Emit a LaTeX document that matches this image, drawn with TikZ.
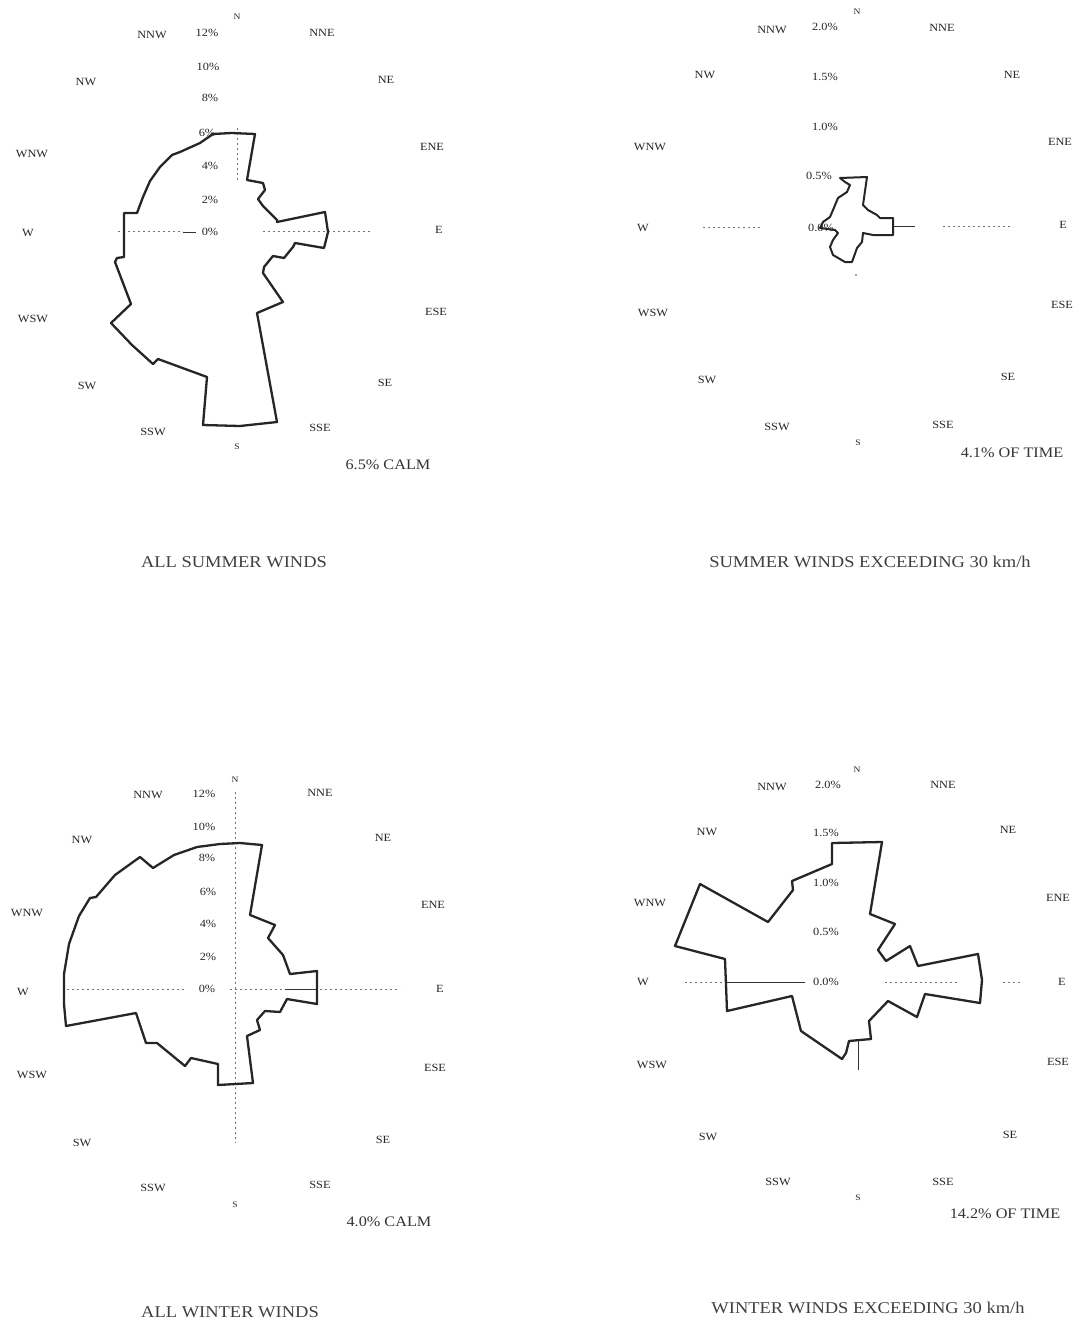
\documentclass[tikz,border=0pt]{standalone}
\usepackage{fontspec}
\setmainfont{Liberation Serif}[FakeStretch=1.12]
\begin{document}
\begin{tikzpicture}[x=1pt,y=-1pt,
  rose/.style={draw=black!85,line width=2.3pt,line join=round},
  lab/.style={inner sep=0pt,font=\fontsize{11}{12}\selectfont,text=black!85},
  nlab/.style={inner sep=0pt,font=\fontsize{8.5}{9}\selectfont,text=black!85},
  ring/.style={inner sep=0pt,font=\fontsize{11}{12}\selectfont,text=black!85},
  note/.style={inner sep=0pt,font=\fontsize{14.5}{16}\selectfont,text=black!80},
  ttl/.style={inner sep=0pt,font=\fontsize{16.5}{18}\selectfont,text=black!75},
  axisd/.style={draw=black!55,line width=0.6pt,dash pattern=on 2pt off 3pt},
  axiss/.style={draw=black!80,line width=0.8pt}]
\useasboundingbox (0,0) rectangle (1081,1328);
\fill[white] (0,0) rectangle (1081,1328);

% ================= ROSE 1 : ALL SUMMER WINDS =================
\coordinate (c1) at (236,231);
\draw[axisd] (118,231) -- (183,231);
\draw[axisd] (263,231) -- (370,231);
\draw[axisd] (237,128) -- (237,180);
\draw[axiss] (183,232) -- (196,232);
\draw[rose] (213,134) -- (232,133) -- (255,134) -- (247,180) -- (263,183) -- (265,190) -- (258,199) -- (263,206) -- (277,220) -- (277,222) -- (325,212) -- (328,232) -- (324,248) -- (295,243) -- (293,247) -- (284,258) -- (273,256) -- (264,267) -- (263,273) -- (283,302) -- (257,313) -- (277,422) -- (240,426) -- (203,425) -- (207,377) -- (158,359) -- (153,364) -- (132,345) -- (111,323) -- (131,304) -- (115,262) -- (117,258) -- (124,257) -- (124,213) -- (137,213) -- (143,197) -- (150,181) -- (160,167) -- (172,155) -- (180,152) -- (200,143) -- cycle;
\node[nlab] (a1) at (237,17) {N};
\node[lab] (a2) at (322,33) {NNE};
\node[lab] (a3) at (386,80) {NE};
\node[lab] (a4) at (432,147) {ENE};
\node[lab] (a5) at (439,230) {E};
\node[lab] (a6) at (436,312) {ESE};
\node[lab] (a7) at (385,383) {SE};
\node[lab] (a8) at (320,428) {SSE};
\node[nlab] (a9) at (237,447) {S};
\node[lab] (a10) at (153,432) {SSW};
\node[lab] (a11) at (87,386) {SW};
\node[lab] (a12) at (33,319) {WSW};
\node[lab] (a13) at (28,233) {W};
\node[lab] (a14) at (32,154) {WNW};
\node[lab] (a15) at (86,82) {NW};
\node[lab] (a16) at (152,35) {NNW};
\node[ring] (p1) at (207,33) {12\%};
\node[ring] (p2) at (208,67) {10\%};
\node[ring] (p3) at (210,98) {8\%};
\node[ring] (p4) at (207,133) {6\%};
\node[ring] (p5) at (210,166) {4\%};
\node[ring] (p6) at (210,200) {2\%};
\node[ring] (p7) at (210,232) {0\%};
\node[note] (calm1) at (388,465) {6.5\% CALM};
\node[ttl] (t1) at (234,562) {ALL SUMMER WINDS};

% ================= ROSE 2 : SUMMER WINDS > 30 km/h =================
\coordinate (c2) at (857,227);
\draw[axisd] (703,227) -- (760,227);
\draw[axiss] (893,226) -- (915,226);
\draw[axisd] (943,226) -- (1013,226);
\fill[black!70] (856,275) circle (0.8pt);
\draw[rose,line width=2pt] (840,178) -- (867,177) -- (863,205) -- (868,210) -- (877,215) -- (880,218) -- (893,218) -- (893,235) -- (873,235) -- (863,233) -- (862,242) -- (857,248) -- (852,262) -- (845,262) -- (833,255) -- (830,247) -- (833,240) -- (838,233) -- (835,230) -- (820,228) -- (823,222) -- (830,217) -- (833,210) -- (838,198) -- (847,192) -- (850,185) -- (845,182) -- cycle;
\node[nlab] (b1) at (857,12) {N};
\node[lab] (b2) at (942,28) {NNE};
\node[lab] (b3) at (1012,75) {NE};
\node[lab] (b4) at (1060,142) {ENE};
\node[lab] (b5) at (1063,225) {E};
\node[lab] (b6) at (1062,305) {ESE};
\node[lab] (b7) at (1008,377) {SE};
\node[lab] (b8) at (943,425) {SSE};
\node[nlab] (b9) at (858,443) {S};
\node[lab] (b10) at (777,427) {SSW};
\node[lab] (b11) at (707,380) {SW};
\node[lab] (b12) at (653,313) {WSW};
\node[lab] (b13) at (643,228) {W};
\node[lab] (b14) at (650,147) {WNW};
\node[lab] (b15) at (705,75) {NW};
\node[lab] (b16) at (772,30) {NNW};
\node[ring] (q1) at (825,27) {2.0\%};
\node[ring] (q2) at (825,77) {1.5\%};
\node[ring] (q3) at (825,127) {1.0\%};
\node[ring] (q4) at (819,176) {0.5\%};
\node[ring] (q5) at (821,228) {0.0\%};
\node[note] (tm2) at (1012,453) {4.1\% OF TIME};
\node[ttl] (t2) at (870,562) {SUMMER WINDS EXCEEDING 30 km/h};

% ================= ROSE 3 : ALL WINTER WINDS =================
\coordinate (c3) at (235,989);
\draw[axisd] (67,989) -- (185,989);
\draw[axisd] (230,989) -- (400,989);
\draw[axisd] (235,792) -- (235,1143);
\draw[axiss] (285,989) -- (317,989);
\draw[rose] (153,868) -- (174,855) -- (197,847) -- (220,844) -- (240,843) -- (262,845) -- (250,915) -- (275,925) -- (268,938) -- (283,955) -- (290,974) -- (317,971) -- (317,1004) -- (287,999) -- (280,1012) -- (265,1011) -- (257,1020) -- (260,1030) -- (247,1036) -- (253,1083) -- (218,1085) -- (218,1064) -- (191,1058) -- (185,1066) -- (157,1043) -- (146,1043) -- (136,1013) -- (66,1026) -- (64,1004) -- (64,974) -- (69,944) -- (79,916) -- (90,898) -- (96,897) -- (115,875) -- (140,857) -- cycle;
\node[nlab] (d1) at (235,780) {N};
\node[lab] (d2) at (320,793) {NNE};
\node[lab] (d3) at (383,838) {NE};
\node[lab] (d4) at (433,905) {ENE};
\node[lab] (d5) at (440,989) {E};
\node[lab] (d6) at (435,1068) {ESE};
\node[lab] (d7) at (383,1140) {SE};
\node[lab] (d8) at (320,1185) {SSE};
\node[nlab] (d9) at (235,1205) {S};
\node[lab] (d10) at (153,1188) {SSW};
\node[lab] (d11) at (82,1143) {SW};
\node[lab] (d12) at (32,1075) {WSW};
\node[lab] (d13) at (23,992) {W};
\node[lab] (d14) at (27,913) {WNW};
\node[lab] (d15) at (82,840) {NW};
\node[lab] (d16) at (148,795) {NNW};
\node[ring] (s1) at (204,794) {12\%};
\node[ring] (s2) at (204,827) {10\%};
\node[ring] (s3) at (207,858) {8\%};
\node[ring] (s4) at (208,892) {6\%};
\node[ring] (s5) at (208,924) {4\%};
\node[ring] (s6) at (208,957) {2\%};
\node[ring] (s7) at (207,989) {0\%};
\node[note] (calm3) at (389,1222) {4.0\% CALM};
\node[ttl] (t3) at (230,1312) {ALL WINTER WINDS};

% ================= ROSE 4 : WINTER WINDS > 30 km/h =================
\coordinate (c4) at (858,982);
\draw[axisd] (685,982) -- (725,982);
\draw[axiss] (725,982) -- (805,982);
\draw[axisd] (885,982) -- (958,982);
\draw[axisd] (1003,982) -- (1020,982);
\draw[axiss] (858,1040) -- (858,1070);
\draw[rose] (832,843) -- (882,842) -- (870,914) -- (895,924) -- (878,950) -- (886,961) -- (910,946) -- (918,966) -- (978,954) -- (982,980) -- (980,1003) -- (925,994) -- (917,1017) -- (888,1001) -- (869,1021) -- (871,1039) -- (849,1041) -- (846,1053) -- (842,1059) -- (801,1031) -- (792,996) -- (727,1011) -- (725,959) -- (675,946) -- (700,884) -- (768,922) -- (793,890) -- (792,881) -- (832,864) -- cycle;
\node[nlab] (e1) at (857,770) {N};
\node[lab] (e2) at (943,785) {NNE};
\node[lab] (e3) at (1008,830) {NE};
\node[lab] (e4) at (1058,898) {ENE};
\node[lab] (e5) at (1062,982) {E};
\node[lab] (e6) at (1058,1062) {ESE};
\node[lab] (e7) at (1010,1135) {SE};
\node[lab] (e8) at (943,1182) {SSE};
\node[nlab] (e9) at (858,1198) {S};
\node[lab] (e10) at (778,1182) {SSW};
\node[lab] (e11) at (708,1137) {SW};
\node[lab] (e12) at (652,1065) {WSW};
\node[lab] (e13) at (643,982) {W};
\node[lab] (e14) at (650,903) {WNW};
\node[lab] (e15) at (707,832) {NW};
\node[lab] (e16) at (772,787) {NNW};
\node[ring] (u1) at (828,785) {2.0\%};
\node[ring] (u2) at (826,833) {1.5\%};
\node[ring] (u3) at (826,883) {1.0\%};
\node[ring] (u4) at (826,932) {0.5\%};
\node[ring] (u5) at (826,982) {0.0\%};
\node[note] (tm4) at (1005,1214) {14.2\% OF TIME};
\node[ttl] (t4) at (868,1308) {WINTER WINDS EXCEEDING 30 km/h};
\end{tikzpicture}
\end{document}
